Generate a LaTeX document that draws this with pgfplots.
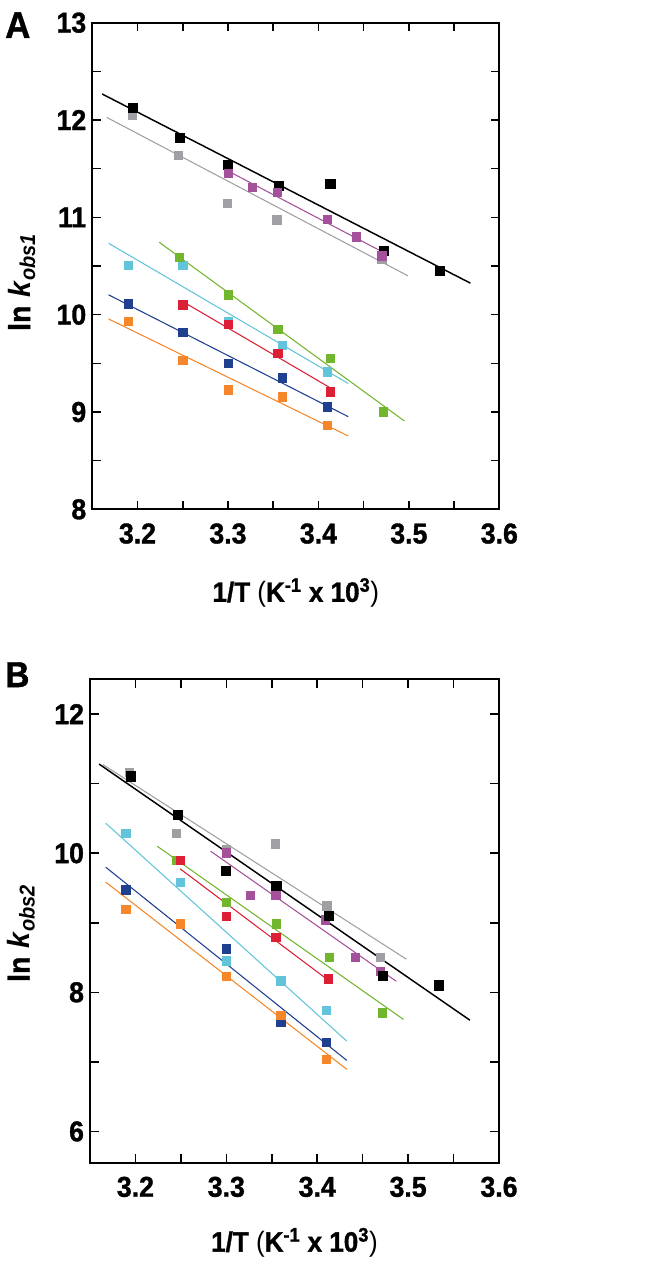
\documentclass[border=0pt]{standalone}
\usepackage{fontspec}
\setmainfont{Liberation Sans}[FakeStretch=0.93, BoldFeatures={FakeBold=1.2}]
\usepackage{pgfplots}
\pgfplotsset{compat=1.18}
\definecolor{cgray}{HTML}{A0A0A4}
\definecolor{cmag}{HTML}{A5509B}
\definecolor{cgreen}{HTML}{72B62E}
\definecolor{ccyan}{HTML}{62C4DA}
\definecolor{cred}{HTML}{DC1F34}
\definecolor{cnavy}{HTML}{1F3F8F}
\definecolor{corange}{HTML}{F5872A}
\pgfplotsset{
  kin/.style={
    scale only axis,
    xmin=3.15, xmax=3.6,
    xtick={3.2,3.3,3.4,3.5,3.6},
    minor x tick num=1,
    minor y tick num=1,
    tick align=inside,
    tick pos=both,
    xticklabel pos=lower,
    yticklabel pos=left,
    major tick length=6.5pt,
    minor tick length=6.5pt,
    every tick/.style={line width=1.2pt, black},
    axis line style={line width=1.5pt},
    /pgf/number format/assume math mode=true,
    /pgf/number format/fixed,
    /pgf/number format/precision=1,
    tick label style={font=\fontsize{21.5}{21.5}\selectfont\bfseries},
    xticklabel style={yshift=-7pt},
    yticklabel style={xshift=-1pt},
    label style={font=\fontsize{21}{21}\selectfont\bfseries},
  },
  ln/.style={no marks, line width=0.8pt, forget plot},
  pt/.style={only marks, mark=square*, mark size=3.1pt, forget plot},
}
\begin{document}
\begin{tikzpicture}
\useasboundingbox (0,0) rectangle (487.5pt,-948.75pt);
% ---------------- Panel A ----------------
\begin{axis}[kin,
  at={(69.2pt,-382pt)}, anchor=south west,
  width=305.3pt, height=365pt,
  ymin=8, ymax=13, ytick={8,9,10,11,12,13},
  xlabel={1/T {\mdseries(}K\textsuperscript{-1} x 10\textsuperscript{3}{\mdseries)}},
  xlabel style={at={(axis description cs:0.5,-0.19)}, anchor=base},
  ylabel={\fontsize{23}{23}\selectfont\bfseries ln \textit{k}\textsubscript{\textit{obs1}}},
  ylabel style={at={(axis description cs:-0.139,0.467)}, anchor=south, inner sep=0pt},
]
% lines
\addplot[ln, cgray] coordinates {(3.166,12.027) (3.499,10.399)};
\addplot[ln, black, line width=1.1pt] coordinates {(3.161,12.267) (3.568,10.324)};
\addplot[ln, cmag] coordinates {(3.300,11.477) (3.470,10.649)};
\addplot[ln, cgreen] coordinates {(3.224,10.744) (3.495,8.908)};
\addplot[ln, ccyan] coordinates {(3.168,10.734) (3.433,9.293)};
\addplot[ln, cred] coordinates {(3.250,10.135) (3.413,9.249)};
\addplot[ln, cnavy] coordinates {(3.168,10.204) (3.433,8.952)};
\addplot[ln, corange] coordinates {(3.168,9.956) (3.433,8.754)};
% points
\addplot[pt, cgray] coordinates {(3.194,12.051) (3.245,11.641) (3.299,11.145) (3.354,10.974) (3.470,10.57)};
\addplot[pt, black, mark size=3.5pt] coordinates {(3.195,12.127) (3.247,11.82) (3.300,11.538) (3.356,11.326) (3.413,11.343) (3.472,10.655) (3.534,10.454)};
\addplot[pt, cmag] coordinates {(3.300,11.456) (3.327,11.306) (3.3545,11.254) (3.410,10.984) (3.442,10.80) (3.470,10.604)};
\addplot[pt, ccyan] coordinates {(3.190,10.505) (3.250,10.505) (3.300,9.93) (3.360,9.686) (3.410,9.413)};
\addplot[pt, cgreen] coordinates {(3.246,10.587) (3.300,10.204) (3.355,9.853) (3.413,9.553) (3.472,9.003)};
\addplot[pt, cred] coordinates {(3.250,10.101) (3.300,9.898) (3.355,9.607) (3.413,9.208)};
\addplot[pt, cnavy] coordinates {(3.190,10.113) (3.250,9.823) (3.300,9.498) (3.360,9.352) (3.410,9.055)};
\addplot[pt, corange] coordinates {(3.190,9.932) (3.250,9.529) (3.300,9.229) (3.360,9.157) (3.410,8.867)};
\end{axis}
% ---------------- Panel B ----------------
\begin{axis}[kin,
  at={(67.5pt,-872pt)}, anchor=south west,
  width=306.75pt, height=362.5pt,
  ymin=5.55, ymax=12.5, ytick={6,8,10,12},
  xlabel={1/T {\mdseries(}K\textsuperscript{-1} x 10\textsuperscript{3}{\mdseries)}},
  xlabel style={at={(axis description cs:0.5,-0.184)}, anchor=base},
  ylabel={\fontsize{23}{23}\selectfont\bfseries ln \textit{k}\textsubscript{\textit{obs2}}},
  ylabel style={at={(axis description cs:-0.134,0.475)}, anchor=south, inner sep=0pt},
]
\addplot[ln, cgray] coordinates {(3.1644,11.273) (3.498,8.477)};
\addplot[ln, black, line width=1.1pt] coordinates {(3.160,11.282) (3.568,7.599)};
\addplot[ln, cmag] coordinates {(3.2827,10.029) (3.487,8.158)};
\addplot[ln, cgreen] coordinates {(3.224,10.10) (3.495,7.609)};
\addplot[ln, cred] coordinates {(3.2492,9.775) (3.4124,8.172)};
\addplot[ln, ccyan] coordinates {(3.1673,10.431) (3.4325,7.298)};
\addplot[ln, cnavy] coordinates {(3.1673,9.799) (3.4325,7.021)};
\addplot[ln, corange] coordinates {(3.1673,9.584) (3.4325,6.893)};
\addplot[pt, cgray] coordinates {(3.193,11.163) (3.245,10.287) (3.2996,10.048) (3.3536,10.134) (3.4105,9.244) (3.4697,8.506)};
\addplot[pt, cmag] coordinates {(3.2996,10.005) (3.3267,9.392) (3.3543,9.392) (3.409,9.043) (3.442,8.506) (3.4697,8.301)};
\addplot[pt, black, mark size=3.5pt] coordinates {(3.1945,11.105) (3.2463,10.555) (3.2996,9.751) (3.355,9.536) (3.4124,9.105) (3.4719,8.239) (3.5336,8.10)};
\addplot[pt, cgreen] coordinates {(3.2456,9.895) (3.2996,9.297) (3.355,8.986) (3.4131,8.506) (3.4719,7.704)};
\addplot[pt, cred] coordinates {(3.2492,9.895) (3.2996,9.091) (3.3543,8.794) (3.4124,8.196)};
\addplot[pt, ccyan] coordinates {(3.1893,10.292) (3.2492,9.584) (3.2996,8.453) (3.3598,8.167) (3.4098,7.737)};
\addplot[pt, cnavy] coordinates {(3.1893,9.474) (3.2492,8.986) (3.2996,8.627) (3.3598,7.575) (3.4098,7.284)};
\addplot[pt, corange] coordinates {(3.1893,9.191) (3.2492,8.986) (3.2996,8.229) (3.3598,7.666) (3.4098,7.036)};
\end{axis}
\node[anchor=north west, inner sep=0pt, font=\fontsize{28}{28}\selectfont\bfseries] at (3.75pt,-9pt) {A};
\node[anchor=north west, inner sep=0pt, font=\fontsize{27}{27}\selectfont\bfseries] at (3.75pt,-496.5pt) {B};
\end{tikzpicture}
\end{document}
